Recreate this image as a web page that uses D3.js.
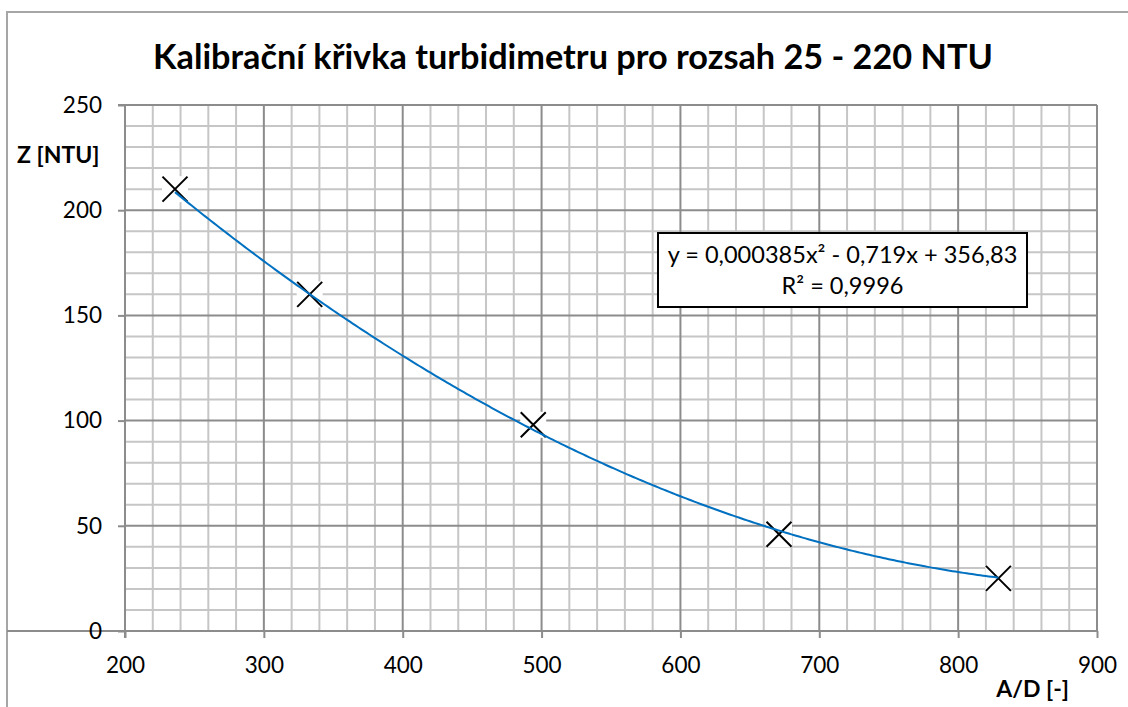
<!DOCTYPE html>
<html>
<head>
<meta charset="utf-8">
<script src="https://cdn.jsdelivr.net/npm/d3@7"></script>
<style>
  html, body { margin: 0; padding: 0; background: #fff; }
  svg { display: block; }
  text { font-family: Lato, "Open Sans", sans-serif; fill: #000; }
</style>
</head>
<body>
<svg id="chart" width="1128" height="707"></svg>
<script>
// Calibration points: A/D reading vs. turbidity Z [NTU]
const adValues = [236, 333, 494, 671, 829];
const ntuValues = [210, 160, 98, 46, 25];

// Quadratic trendline coefficients (a·x² + b·x + c) and fit quality
const fitCoefficients = [0.000385, -0.719, 356.83];
const fitLabel = ["y = 0,000385x² - 0,719x + 356,83", "R² = 0,9996"];

// Axis ticks
const xTicks = [200, 300, 400, 500, 600, 700, 800, 900];
const yTicks = [0, 50, 100, 150, 200, 250];
const xMinorStep = 20;
const yMinorStep = 10;

const titleText = "Kalibrační křivka turbidimetru pro rozsah 25 - 220 NTU";
const xTitle = "A/D [-]";
const yTitle = "Z [NTU]";

const svg = d3.select("#chart");
const W = 1128, H = 707;
const plot = { left: 125, right: 1097, top: 105, bottom: 631 };

const x = d3.scaleLinear().domain([200, 900]).range([plot.left, plot.right]);
const y = d3.scaleLinear().domain([0, 250]).range([plot.bottom, plot.top]);

// Outer chart frame
svg.append("path")
  .attr("d", `M7,${H}V12H${W}`)
  .attr("fill", "none")
  .attr("stroke", "#a6a6a6")
  .attr("stroke-width", 2);

// Title, sized to span its full width
const title = svg.append("text")
  .attr("x", 573).attr("y", 69)
  .attr("text-anchor", "middle")
  .attr("font-weight", "bold")
  .attr("font-size", 32)
  .text(titleText);
{
  const w = title.node().getComputedTextLength();
  title.attr("font-size", 32 * 840 / w);
}

// Gridlines: minor first, then major
const grid = svg.append("g");
const xMinor = d3.range(200, 900 + 1e-9, xMinorStep).filter(v => !xTicks.includes(v));
const yMinor = d3.range(0, 250 + 1e-9, yMinorStep).filter(v => !yTicks.includes(v));

grid.selectAll(".xminor").data(xMinor).join("line")
  .attr("x1", d => x(d)).attr("x2", d => x(d))
  .attr("y1", plot.top).attr("y2", plot.bottom)
  .attr("stroke", "#c6c6c6").attr("stroke-width", 2);
grid.selectAll(".yminor").data(yMinor).join("line")
  .attr("x1", plot.left).attr("x2", plot.right)
  .attr("y1", d => y(d)).attr("y2", d => y(d))
  .attr("stroke", "#c6c6c6").attr("stroke-width", 2);
grid.selectAll(".xmajor").data(xTicks).join("line")
  .attr("x1", d => x(d)).attr("x2", d => x(d))
  .attr("y1", plot.top).attr("y2", plot.bottom)
  .attr("stroke", "#8c8c8c").attr("stroke-width", 2);
grid.selectAll(".ymajor").data(yTicks).join("line")
  .attr("x1", plot.left).attr("x2", plot.right)
  .attr("y1", d => y(d)).attr("y2", d => y(d))
  .attr("stroke", "#8c8c8c").attr("stroke-width", 2);

// Axes
const tickFont = 22.5;
const xAxis = d3.axisBottom(x).tickValues(xTicks).tickSize(7).tickPadding(19).tickFormat(d3.format("d"));
const yAxis = d3.axisLeft(y).tickValues(yTicks).tickSize(7).tickPadding(16).tickFormat(d3.format("d"));

const gx = svg.append("g").attr("transform", `translate(0,${plot.bottom})`).call(xAxis);
const gy = svg.append("g").attr("transform", `translate(${plot.left},0)`).call(yAxis);
[gx, gy].forEach(g => {
  g.select(".domain").attr("stroke", "#8c8c8c").attr("stroke-width", 2);
  g.selectAll(".tick line").attr("stroke", "#8c8c8c").attr("stroke-width", 2);
  g.selectAll(".tick text").attr("font-size", tickFont).attr("font-family", "Lato, sans-serif").attr("fill", "#000");
});
gy.select(".domain").attr("d", `M-7,${plot.top}H0V${plot.bottom}H-7`);
gx.select(".domain").attr("d", `M${plot.left},7V0H${plot.right},7`);

// Axis titles
svg.append("text")
  .attr("x", 17).attr("y", 163)
  .attr("font-weight", "bold").attr("font-size", 23)
  .text(yTitle);
svg.append("text")
  .attr("x", 1069).attr("y", 697)
  .attr("text-anchor", "end")
  .attr("font-weight", "bold").attr("font-size", 23)
  .text(xTitle);

// Data markers: X on a white square
const points = adValues.map((v, i) => ({ ad: v, ntu: ntuValues[i] }));
const markers = svg.append("g").selectAll("g").data(points).join("g")
  .attr("transform", d => `translate(${x(d.ad)},${y(d.ntu)})`);
markers.append("rect")
  .attr("x", -13).attr("y", -13).attr("width", 26).attr("height", 26)
  .attr("fill", "#fff");
markers.append("path")
  .attr("d", "M-12.5,-12.5L12.5,12.5M-12.5,12.5L12.5,-12.5")
  .attr("stroke", "#000").attr("stroke-width", 2).attr("fill", "none");

// Polynomial trendline across the measured range
const [a, b, c] = fitCoefficients;
const fit = v => a * v * v + b * v + c;
const [xMin, xMax] = d3.extent(adValues);
const curveXs = d3.range(xMin, xMax, 2).concat([xMax]);
svg.append("path")
  .datum(curveXs)
  .attr("d", d3.line().x(v => x(v)).y(v => y(fit(v))))
  .attr("fill", "none")
  .attr("stroke", "#0070c0")
  .attr("stroke-width", 2);

// Equation label
const box = { x: 658, y: 233, w: 369, h: 74 };
svg.append("rect")
  .attr("x", box.x).attr("y", box.y).attr("width", box.w).attr("height", box.h)
  .attr("fill", "#fff").attr("stroke", "#000").attr("stroke-width", 2);
const eq1 = svg.append("text")
  .attr("x", box.x + box.w / 2).attr("y", 263)
  .attr("text-anchor", "middle").attr("font-size", 21)
  .text(fitLabel[0]);
{
  const w = eq1.node().getComputedTextLength();
  eq1.attr("font-size", 21 * 350 / w);
}
svg.append("text")
  .attr("x", box.x + box.w / 2).attr("y", 294)
  .attr("text-anchor", "middle").attr("font-size", eq1.attr("font-size"))
  .text(fitLabel[1]);
</script>
</body>
</html>
